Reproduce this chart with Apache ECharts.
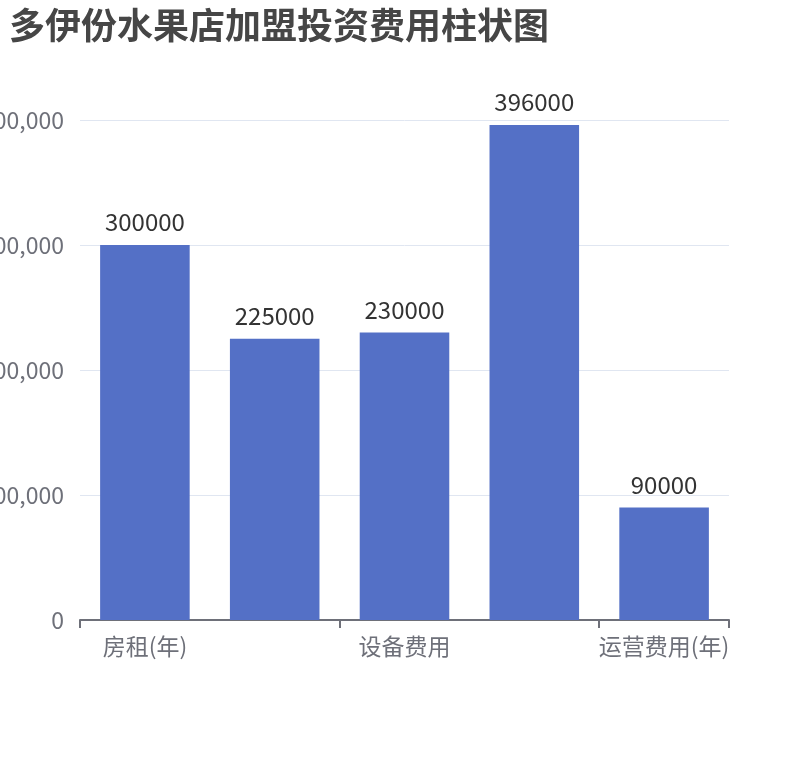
<!DOCTYPE html>
<html><head><meta charset="utf-8">
<script src="https://cdn.jsdelivr.net/npm/echarts@6/dist/echarts.min.js"></script>
<style>html,body{margin:0;padding:0;background:#fff}#c{width:810px;height:760px}</style>
</head><body><div id="c"></div>
<script>
const categories = ['房租(年)', '装修费用', '设备费用', '加盟费用', '运营费用(年)'];
const costs = [300000, 225000, 230000, 396000, 90000];
const yMax = 400000;
const yInterval = 100000;

const chart = echarts.init(document.getElementById('c'));
chart.setOption({
  textStyle: { fontFamily: '"Noto Sans CJK SC", sans-serif' },
  title: {
    text: '多伊份水果店加盟投资费用柱状图',
    left: 4, top: 2,
    textStyle: { fontSize: 36, fontWeight: 'bold', color: '#464646', fontFamily: '"Noto Sans CJK SC", sans-serif' }
  },
  grid: { left: 80, right: 81, top: 120, bottom: 140, containLabel: false, outerBoundsMode: 'none' },
  xAxis: {
    type: 'category',
    data: categories,
    axisLabel: { interval: 1, fontSize: 23, color: '#6E7079', margin: 15 },
    axisTick: { show: true, interval: 1, length: 8, lineStyle: { color: '#6E7079', width: 2 } },
    axisLine: { lineStyle: { color: '#6E7079', width: 2 } }
  },
  yAxis: {
    type: 'value',
    min: 0, max: yMax, interval: yInterval,
    axisLabel: { fontSize: 23, color: '#6E7079', margin: 16 },
    splitLine: { lineStyle: { color: '#E0E6F1' } }
  },
  series: [{
    type: 'bar',
    data: costs,
    barWidth: '69%',
    itemStyle: { color: '#5470c6' },
    label: { show: true, position: 'top', distance: 11, fontSize: 24, color: '#333' }
  }]
});
</script></body></html>
